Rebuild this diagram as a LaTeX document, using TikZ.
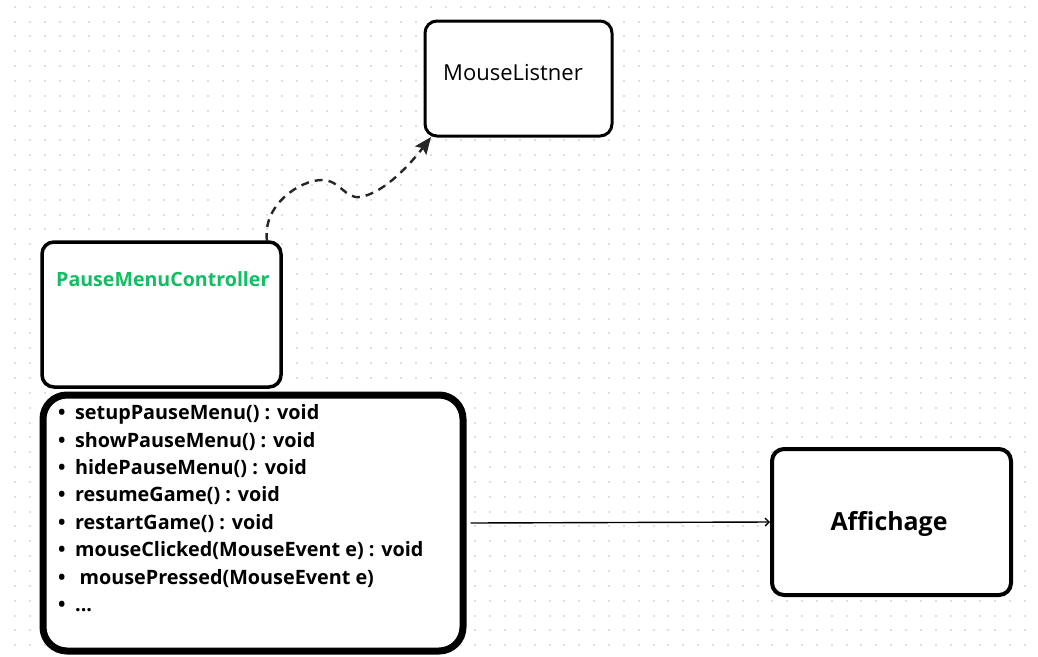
\documentclass[tikz,border=0pt]{standalone}
\usepackage{fontspec}
\setmainfont{Open Sans}
\usetikzlibrary{arrows.meta}
\definecolor{gridgray}{RGB}{222,222,232}
\definecolor{ctrlgreen}{RGB}{18,190,98}

\begin{document}
\begin{tikzpicture}[x=1pt,y=-1pt,
    box/.style={draw, rounded corners=12pt, line width=3pt, fill=white, inner sep=0pt},
    methodsbox/.style={draw, rounded corners=24pt, line width=7pt, fill=white, inner sep=0pt},
    implements/.style={dashed, dash pattern=on 8pt off 6pt, line width=2.4pt, black!85,
                       -{Stealth[length=17pt,width=14pt,inset=3pt]}},
    uses/.style={line width=1.4pt, -{Straight Barb[length=4pt,width=8pt]}}]
    % canvas
    \useasboundingbox[fill=white] (0,0) rectangle (1038,656);
    \foreach \i in {0,...,69}
      \foreach \j in {0,...,44}
        \fill[gridgray] (15+14.85*\i-1,6.7+14.85*\j-1) rectangle ++(2,2);

    % boxes
    \node[box, minimum width=187pt, minimum height=115pt] (listener) at (518.5,78.5) {};
    \node[box, minimum width=239pt, minimum height=145pt, line width=3.5pt] (pmc) at (161.5,314.5) {};
    \node[methodsbox, minimum width=420pt, minimum height=256pt] (methods) at (253,523) {};
    \node[box, minimum width=239pt, minimum height=146pt, line width=4pt] (affichage) at (891.5,522) {};

    % texts
    \node[font=\fontsize{22}{25}\selectfont, anchor=west, inner sep=0pt] (listenername) at (443,73) {MouseListner};
    \node[font=\bfseries\fontsize{19.6}{22}\selectfont, text=ctrlgreen, anchor=west, inner sep=0pt] (pmcname) at (56,279) {PauseMenuController};
    \node[font=\bfseries\fontsize{24.9}{28}\selectfont] (affname) at (889,524) {Affichage};
    \node[font=\bfseries\fontsize{19.8}{27.4}\selectfont, align=left, anchor=north west, inner sep=0pt] (list) at (58,404.5) {
      \textbullet\hspace{9.5pt}setupPauseMenu() : void\\
      \textbullet\hspace{9.5pt}showPauseMenu() : void\\
      \textbullet\hspace{9.5pt}hidePauseMenu() : void\\
      \textbullet\hspace{9.5pt}resumeGame() : void\\
      \textbullet\hspace{9.5pt}restartGame() : void\\
      \textbullet\hspace{9.5pt}mouseClicked(MouseEvent e) : void\\
      \textbullet\hspace{14pt}mousePressed(MouseEvent e)\\
      \textbullet\hspace{9.5pt}...};

    % connectors
    \coordinate (implstart) at (267,241);
    \coordinate (impltip) at (431,137);
    \draw[implements] (implstart) .. controls (262,205) and (300,180) .. (322,180)
        .. controls (340,180) and (345,199) .. (360,197)
        .. controls (385,193) and (412,162) .. (impltip);
    \path (methods.east) ++(4,0) coordinate (usestart);
    \draw[uses] (usestart) -- (affichage.west);
\end{tikzpicture}
\end{document}
